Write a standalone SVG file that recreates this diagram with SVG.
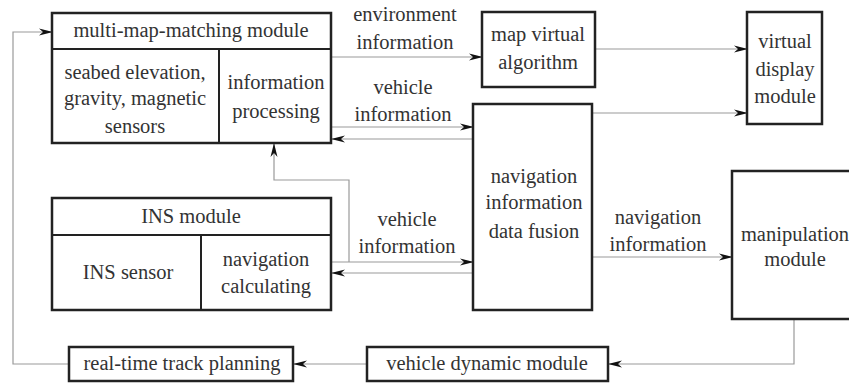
<svg xmlns="http://www.w3.org/2000/svg" width="849" height="384" viewBox="0 0 849 384">
<defs>
<style>
.box{fill:#fff;stroke:#222;stroke-width:2.5}
.div{fill:none;stroke:#222;stroke-width:2}
.c{fill:none;stroke:#9a9a9a;stroke-width:1.2}
.t{font-family:'Liberation Serif','DejaVu Serif',serif;font-size:20.5px;fill:#333;text-anchor:middle}
</style>
<marker id="ah" viewBox="0 0 14 8" refX="13" refY="4" markerWidth="14" markerHeight="8" markerUnits="userSpaceOnUse" orient="auto">
<path d="M0,0.5 L14,4 L0,7.5 L4,4 Z" fill="#111"/>
</marker>
</defs>
<rect width="849" height="384" fill="#fff"/>
<g id="connectors">
<path class="c" d="M331,57 H482" marker-end="url(#ah)"/>
<path class="c" d="M331,127 H473" marker-end="url(#ah)"/>
<path class="c" d="M473,139 H332" marker-end="url(#ah)"/>
<path class="c" d="M595,49 H747" marker-end="url(#ah)"/>
<path class="c" d="M592,113 H747" marker-end="url(#ah)"/>
<path class="c" d="M331,262 H473" marker-end="url(#ah)"/>
<path class="c" d="M473,273 H332" marker-end="url(#ah)"/>
<path class="c" d="M349,262 V180 H274 V144" marker-end="url(#ah)"/>
<path class="c" d="M592,257 H732" marker-end="url(#ah)"/>
<path class="c" d="M794,319 V364 H609" marker-end="url(#ah)"/>
<path class="c" d="M367,364 H294" marker-end="url(#ah)"/>
<path class="c" d="M69,364 H13 V32 H52" marker-end="url(#ah)"/>
<g class="t" font-family="Liberation Serif, DejaVu Serif, serif">
<text x="405" y="21">environment</text>
<text x="405" y="49">information</text>
<text x="403" y="94">vehicle</text>
<text x="403" y="121">information</text>
<text x="407" y="226">vehicle</text>
<text x="407" y="253">information</text>
<text x="658" y="224">navigation</text>
<text x="658" y="251">information</text>
</g>
</g>
<g id="multi-map" class="t">
<rect class="box" x="52" y="13" width="279" height="130"/>
<path class="div" d="M52,49 H331 M219,49 V143"/>
<text x="191" y="37">multi-map-matching module</text>
<text x="135" y="79">seabed elevation,</text>
<text x="135" y="105">gravity, magnetic</text>
<text x="135" y="133">sensors</text>
<text x="276" y="89">information</text>
<text x="276" y="118">processing</text>
</g>
<g id="map-virtual" class="t">
<rect class="box" x="482" y="12" width="113" height="75"/>
<text x="538" y="41">map virtual</text>
<text x="538" y="69">algorithm</text>
</g>
<g id="virtual-display" class="t">
<rect class="box" x="747" y="12" width="75" height="112"/>
<text x="785" y="48">virtual</text>
<text x="785" y="76">display</text>
<text x="785" y="103">module</text>
</g>
<g id="fusion" class="t">
<rect class="box" x="473" y="104" width="119" height="206"/>
<text x="534" y="183">navigation</text>
<text x="534" y="209">information</text>
<text x="534" y="238">data fusion</text>
</g>
<g id="ins" class="t">
<rect class="box" x="52" y="198" width="279" height="112"/>
<path class="div" d="M52,235 H331 M201,235 V310"/>
<text x="191" y="223">INS module</text>
<text x="128" y="279">INS sensor</text>
<text x="266" y="266">navigation</text>
<text x="266" y="293">calculating</text>
</g>
<g id="manipulation" class="t">
<rect class="box" x="732" y="171" width="130" height="148"/>
<text x="795" y="241">manipulation</text>
<text x="795" y="266">module</text>
</g>
<g id="vehicle-dynamic" class="t">
<rect class="box" x="367" y="347" width="241" height="34"/>
<text x="487" y="370">vehicle dynamic module</text>
</g>
<g id="real-time" class="t">
<rect class="box" x="69" y="347" width="224" height="34"/>
<text x="182" y="370">real-time track planning</text>
</g>
</svg>
